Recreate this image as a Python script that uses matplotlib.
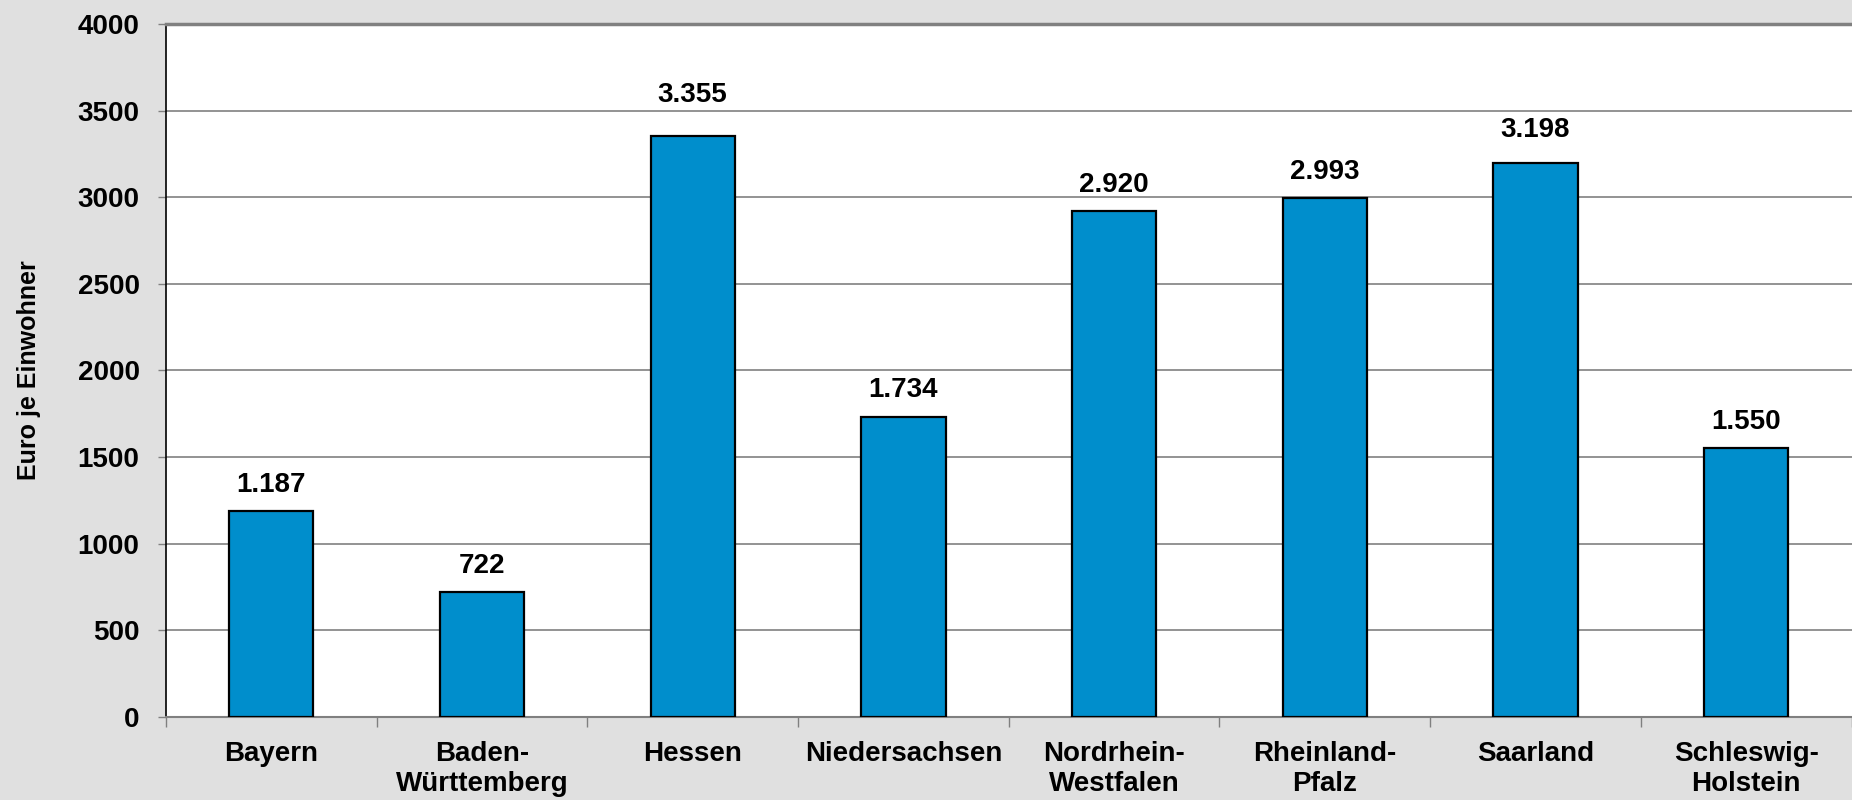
import numpy as np
import matplotlib.pyplot as plt

laender = ["Bayern", "Baden-\nWürttemberg", "Hessen", "Niedersachsen",
           "Nordrhein-\nWestfalen", "Rheinland-\nPfalz", "Saarland", "Schleswig-\nHolstein"]
werte = [1187, 722, 3355, 1734, 2920, 2993, 3198, 1550]
y_ticks = [0, 500, 1000, 1500, 2000, 2500, 3000, 3500, 4000]

# Abstand Beschriftung ueber dem Balken (pt), wie im Original
label_abstand = [13.7, 13.7, 24.5, 14.2, 13.7, 13.7, 18.7, 14.2]

plt.rcParams['font.family'] = ['Liberation Sans', 'DejaVu Sans']
plt.rcParams['font.weight'] = 'bold'

fig = plt.figure(figsize=(18.52, 8), dpi=100, facecolor='#e0e0e0')
ax = fig.add_axes([166/1852, 1 - 717/800, 1 - 166/1852 - 0.5/1852, (717 - 24)/800])
ax.set_facecolor('white')

x = np.arange(len(laender))
bars = ax.bar(x, werte, width=0.4, color='#008ecc', edgecolor='black', linewidth=1.6, zorder=3)

for xi, v, off in zip(x, werte, label_abstand):
    ax.annotate(f"{v:,}".replace(",", "."), (xi, v), xytext=(0, off), textcoords='offset points',
                ha='center', va='baseline', fontsize=20, fontweight='bold')

ax.set_xlim(-0.5, len(laender) - 0.5)
ax.set_ylim(0, 4000)
ax.set_yticks(y_ticks)
ax.set_yticklabels([str(t) for t in y_ticks], fontsize=20, fontweight='bold')
ax.yaxis.grid(True, color='#808080', linewidth=1.2, zorder=0)

ax.set_xticks(x)
ax.set_xticklabels(laender, fontsize=20, fontweight='bold')
ax.set_xticks(np.arange(-0.5, len(laender)), minor=True)
ax.tick_params(axis='x', which='major', length=0, pad=17)
ax.tick_params(axis='x', which='minor', length=7, width=1, color='#808080', direction='out')
ax.tick_params(axis='y', length=6, width=1, color='#808080', pad=13)

ax.spines['left'].set_color('black')
ax.spines['left'].set_linewidth(1.2)
ax.spines['bottom'].set_color('#808080')
ax.spines['bottom'].set_linewidth(1.5)
ax.spines['top'].set_color('#808080')
ax.spines['top'].set_linewidth(2.5)
ax.spines['right'].set_visible(False)

ax.set_ylabel('Euro je Einwohner', fontsize=18, fontweight='bold', labelpad=0)
ax.yaxis.set_label_coords(-(166 - 41) / (1852 - 166), 0.5)

fig.savefig('out.png', dpi=100, facecolor=fig.get_facecolor())
